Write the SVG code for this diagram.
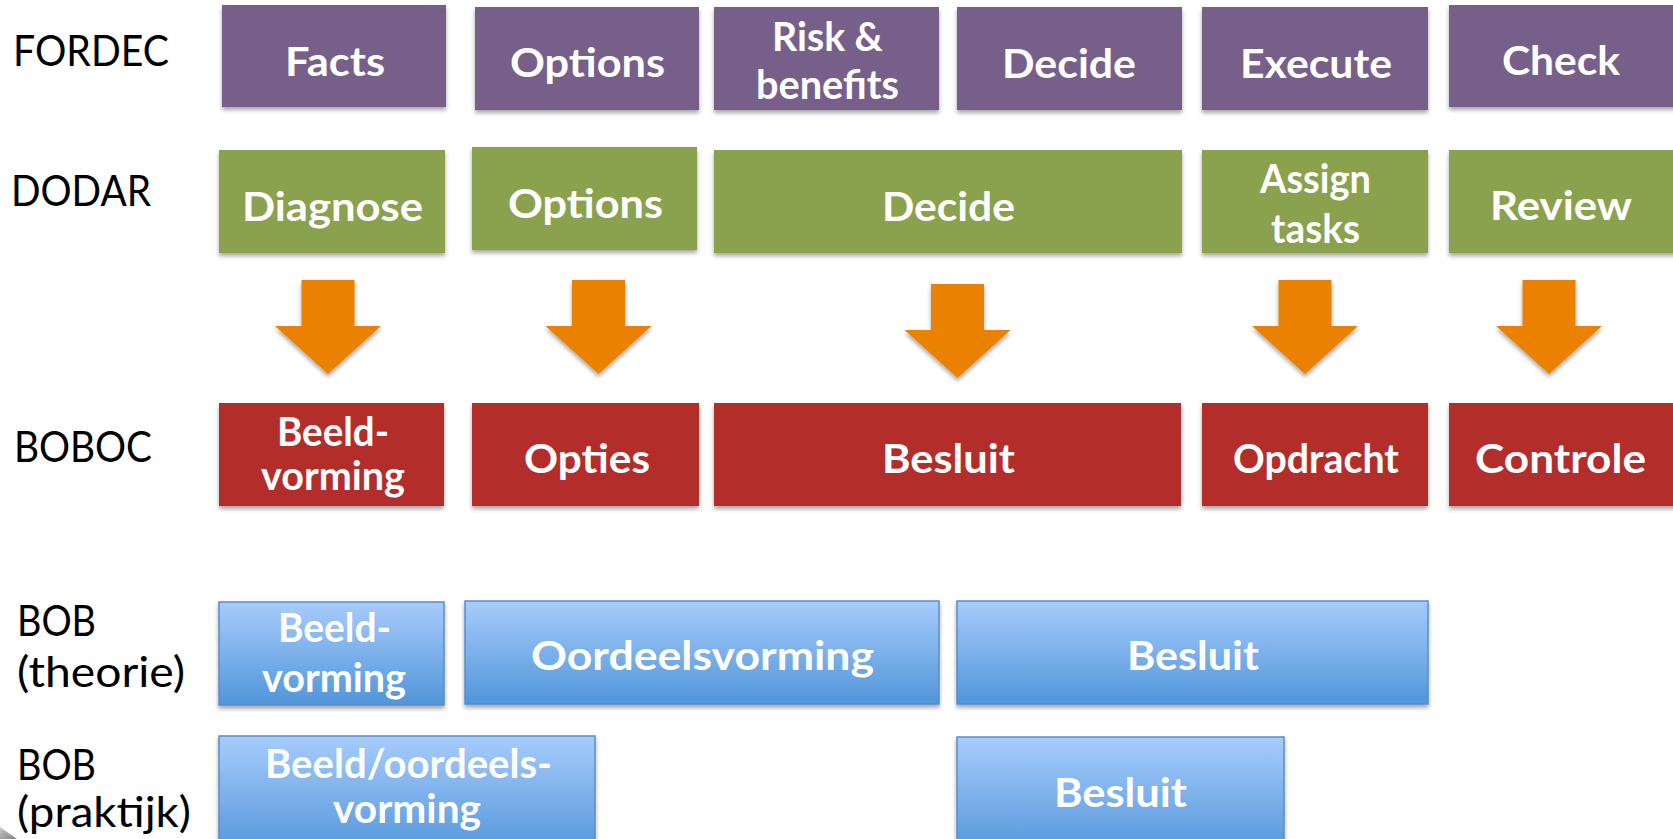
<svg xmlns="http://www.w3.org/2000/svg" width="1673" height="839" viewBox="0 0 1673 839">
<style>
.lbl{font-family:Lato,"Liberation Sans",sans-serif;font-size:42px;fill:#000}
.bt{font-family:Lato,"Liberation Sans",sans-serif;font-weight:bold;font-size:40px;fill:#fff;text-anchor:middle}
.pur{fill:#76608A}
.grn{fill:#8AA24E}
.red{fill:#B32D29}
.blu{fill:url(#bg);stroke:#5A8DC8;stroke-width:1.5}
.arr{fill:#EB8104}
</style>
<defs>
<linearGradient id="bg" x1="0" y1="0" x2="0" y2="1">
<stop offset="0" stop-color="#A7CCFB"/>
<stop offset="1" stop-color="#5195DA"/>
</linearGradient>
<linearGradient id="gg" x1="0" y1="0" x2="1" y2="1">
<stop offset="0" stop-color="#C8C8C8"/>
<stop offset="1" stop-color="#808080"/>
</linearGradient>
<filter id="sh" x="-10%" y="-10%" width="120%" height="130%">
<feDropShadow dx="0" dy="3" stdDeviation="2" flood-color="#000" flood-opacity="0.35"/>
</filter>
<path id="arrow" d="M-26.5,0 h53 v46 h26.5 L0,94 L-53,46 h26.5 z"/>
</defs>
<rect width="1673" height="839" fill="#fff"/>

<g id="labels">
<text class="lbl" x="13" y="66" textLength="156" lengthAdjust="spacingAndGlyphs">FORDEC</text>
<text class="lbl" x="11" y="206" textLength="140" lengthAdjust="spacingAndGlyphs">DODAR</text>
<text class="lbl" x="14" y="462" textLength="138" lengthAdjust="spacingAndGlyphs">BOBOC</text>
<text class="lbl" x="17" y="636" textLength="79" lengthAdjust="spacingAndGlyphs">BOB</text>
<text class="lbl" x="17" y="687" textLength="168" lengthAdjust="spacingAndGlyphs">(theorie)</text>
<text class="lbl" x="17" y="780" textLength="79" lengthAdjust="spacingAndGlyphs">BOB</text>
<text class="lbl" x="17" y="827" textLength="174" lengthAdjust="spacingAndGlyphs">(praktijk)</text>
</g>

<g id="fordec-facts"><rect class="pur" x="222" y="5" width="224" height="102" filter="url(#sh)"/><text class="bt" x="335" y="76" textLength="100" lengthAdjust="spacingAndGlyphs">Facts</text></g>
<g id="fordec-options"><rect class="pur" x="475" y="7" width="224" height="103" filter="url(#sh)"/><text class="bt" x="587.5" y="77" textLength="155" lengthAdjust="spacingAndGlyphs">Options</text></g>
<g id="fordec-risk"><rect class="pur" x="714" y="7" width="225" height="103" filter="url(#sh)"/><text class="bt" x="827.5" y="51" textLength="111" lengthAdjust="spacingAndGlyphs">Risk &amp;</text><text class="bt" x="827.5" y="99" textLength="143" lengthAdjust="spacingAndGlyphs">benefits</text></g>
<g id="fordec-decide"><rect class="pur" x="957" y="7" width="225" height="103" filter="url(#sh)"/><text class="bt" x="1069" y="78" textLength="134" lengthAdjust="spacingAndGlyphs">Decide</text></g>
<g id="fordec-execute"><rect class="pur" x="1202" y="7" width="226" height="103" filter="url(#sh)"/><text class="bt" x="1316" y="78" textLength="152" lengthAdjust="spacingAndGlyphs">Execute</text></g>
<g id="fordec-check"><rect class="pur" x="1449" y="5" width="230" height="102" filter="url(#sh)"/><text class="bt" x="1561" y="75" textLength="118" lengthAdjust="spacingAndGlyphs">Check</text></g>

<g id="dodar-diagnose"><rect class="grn" x="219" y="150" width="226" height="103" filter="url(#sh)"/><text class="bt" x="332.5" y="221" textLength="181" lengthAdjust="spacingAndGlyphs">Diagnose</text></g>
<g id="dodar-options"><rect class="grn" x="472" y="147" width="225" height="103" filter="url(#sh)"/><text class="bt" x="585.5" y="218" textLength="155" lengthAdjust="spacingAndGlyphs">Options</text></g>
<g id="dodar-decide"><rect class="grn" x="714" y="150" width="468" height="103" filter="url(#sh)"/><text class="bt" x="948.5" y="221" textLength="133" lengthAdjust="spacingAndGlyphs">Decide</text></g>
<g id="dodar-assign"><rect class="grn" x="1202" y="150" width="226" height="103" filter="url(#sh)"/><text class="bt" x="1315.5" y="193" textLength="111" lengthAdjust="spacingAndGlyphs">Assign</text><text class="bt" x="1315.5" y="243" textLength="89" lengthAdjust="spacingAndGlyphs">tasks</text></g>
<g id="dodar-review"><rect class="grn" x="1449" y="150" width="230" height="103" filter="url(#sh)"/><text class="bt" x="1561" y="220" textLength="142" lengthAdjust="spacingAndGlyphs">Review</text></g>

<g id="connectors">
<use href="#arrow" class="arr" x="328" y="280" filter="url(#sh)"/>
<use href="#arrow" class="arr" x="598.5" y="280" filter="url(#sh)"/>
<use href="#arrow" class="arr" x="957.5" y="284" filter="url(#sh)"/>
<use href="#arrow" class="arr" x="1305" y="280" filter="url(#sh)"/>
<use href="#arrow" class="arr" x="1549" y="280" filter="url(#sh)"/>
</g>

<g id="boboc-beeldvorming"><rect class="red" x="219" y="403" width="225" height="103" filter="url(#sh)"/><text class="bt" x="333" y="446" textLength="112" lengthAdjust="spacingAndGlyphs">Beeld-</text><text class="bt" x="333" y="490" textLength="144" lengthAdjust="spacingAndGlyphs">vorming</text></g>
<g id="boboc-opties"><rect class="red" x="472" y="403" width="227" height="103" filter="url(#sh)"/><text class="bt" x="587" y="473" textLength="126" lengthAdjust="spacingAndGlyphs">Opties</text></g>
<g id="boboc-besluit"><rect class="red" x="714" y="403" width="467" height="103" filter="url(#sh)"/><text class="bt" x="948.5" y="473" textLength="133" lengthAdjust="spacingAndGlyphs">Besluit</text></g>
<g id="boboc-opdracht"><rect class="red" x="1202" y="403" width="226" height="103" filter="url(#sh)"/><text class="bt" x="1316" y="473" textLength="166" lengthAdjust="spacingAndGlyphs">Opdracht</text></g>
<g id="boboc-controle"><rect class="red" x="1449" y="403" width="230" height="103" filter="url(#sh)"/><text class="bt" x="1560.5" y="473" textLength="171" lengthAdjust="spacingAndGlyphs">Controle</text></g>

<g id="bobt-beeldvorming"><rect class="blu" x="219" y="602" width="225" height="103" filter="url(#sh)"/><text class="bt" x="334.5" y="642" textLength="113" lengthAdjust="spacingAndGlyphs">Beeld-</text><text class="bt" x="334" y="692" textLength="144" lengthAdjust="spacingAndGlyphs">vorming</text></g>
<g id="bobt-oordeelsvorming"><rect class="blu" x="465" y="601" width="474" height="103" filter="url(#sh)"/><text class="bt" x="702.5" y="670" textLength="343" lengthAdjust="spacingAndGlyphs">Oordeelsvorming</text></g>
<g id="bobt-besluit"><rect class="blu" x="957" y="601" width="471" height="103" filter="url(#sh)"/><text class="bt" x="1193" y="670" textLength="132" lengthAdjust="spacingAndGlyphs">Besluit</text></g>

<g id="bobp-beeldoordeels"><rect class="blu" x="219" y="736" width="376" height="120" filter="url(#sh)"/><text class="bt" x="408.5" y="778" textLength="287" lengthAdjust="spacingAndGlyphs">Beeld/oordeels-</text><text class="bt" x="407" y="823" textLength="148" lengthAdjust="spacingAndGlyphs">vorming</text></g>
<g id="bobp-besluit"><rect class="blu" x="957" y="737" width="327" height="120" filter="url(#sh)"/><text class="bt" x="1120.5" y="807" textLength="133" lengthAdjust="spacingAndGlyphs">Besluit</text></g>

<polygon points="0,827 17,839 0,839" fill="url(#gg)"/>
</svg>
